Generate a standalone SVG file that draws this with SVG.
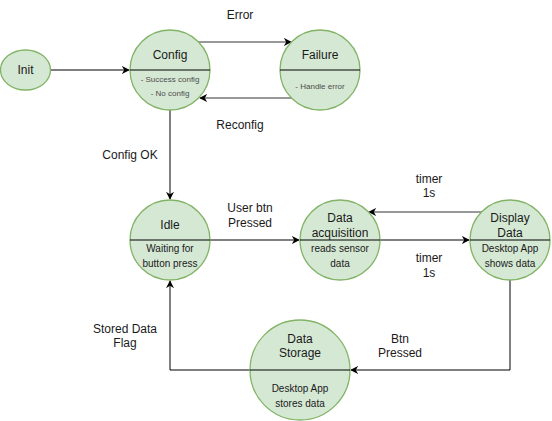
<svg xmlns="http://www.w3.org/2000/svg" width="552" height="421" viewBox="0 0 552 421">
<defs>
<style>
.node{fill:#d5e8d4;stroke:#82b366;stroke-width:1.3}
.div{stroke:#000;stroke-width:1;fill:none}
.t{font-family:"Liberation Sans",Arial,sans-serif;font-size:12px;fill:#1a1a1a;text-anchor:middle}
.s{font-family:"Liberation Sans",Arial,sans-serif;font-size:8px;fill:#4d4d4d;text-anchor:middle}
.m{font-family:"Liberation Sans",Arial,sans-serif;font-size:10px;fill:#1a1a1a;text-anchor:middle}
.e{stroke:#000;stroke-width:1;fill:none}
.g{stroke:#333;stroke-width:1;fill:none}
</style>
<marker id="arr" viewBox="0 0 10 10" refX="9" refY="5" markerWidth="8" markerHeight="8" markerUnits="userSpaceOnUse" orient="auto">
<path d="M0,0 L10,5 L0,10 L3,5 Z" fill="#000"/>
</marker>
</defs>
<rect width="552" height="421" fill="#fff"/>
<g id="connectors">
<path class="e" d="M51,70 H129" marker-end="url(#arr)"/>
<path class="g" d="M198,42 H291" marker-end="url(#arr)"/>
<path class="g" d="M292,98 H200" marker-end="url(#arr)"/>
<path class="e" d="M170,110 V199" marker-end="url(#arr)"/>
<path class="e" d="M210,240 H299" marker-end="url(#arr)"/>
<path class="g" d="M482,212 H369" marker-end="url(#arr)"/>
<path class="e" d="M380,240 H469" marker-end="url(#arr)"/>
<path class="e" d="M510,280 V370 H351" marker-end="url(#arr)"/>
<path class="e" d="M250,370 H170 V281" marker-end="url(#arr)"/>
<text class="t" x="240" y="19">Error</text>
<text class="t" x="240" y="129">Reconfig</text>
<text class="t" x="130" y="159">Config OK</text>
<text class="t" x="250" y="212">User btn</text>
<text class="t" x="250" y="227">Pressed</text>
<text class="t" x="429" y="183">timer</text>
<text class="t" x="429" y="197">1s</text>
<text class="t" x="429" y="262">timer</text>
<text class="t" x="429" y="277">1s</text>
<text class="t" x="400" y="343">Btn</text>
<text class="t" x="400" y="357">Pressed</text>
<text class="t" x="125" y="333">Stored Data</text>
<text class="t" x="125" y="347">Flag</text>
</g>
<g id="init">
<ellipse class="node" cx="25.5" cy="70" rx="25" ry="20"/>
<text class="t" x="25.5" y="74">Init</text>
</g>
<g id="config">
<circle class="node" cx="170" cy="70" r="40"/>
<path class="div" d="M130,70 H210"/>
<text class="t" x="170" y="59">Config</text>
<text class="s" x="170" y="82">- Success config</text>
<text class="s" x="170" y="96">- No config</text>
</g>
<g id="failure">
<circle class="node" cx="320" cy="70" r="40"/>
<path class="div" d="M280,70 H360"/>
<text class="t" x="320" y="59">Failure</text>
<text class="s" x="320" y="89">- Handle error</text>
</g>
<g id="idle">
<circle class="node" cx="170" cy="240" r="40"/>
<path class="div" d="M130,240 H210"/>
<text class="t" x="170" y="229">Idle</text>
<text class="m" x="170" y="252">Waiting for</text>
<text class="m" x="170" y="267">button press</text>
</g>
<g id="acquisition">
<circle class="node" cx="340" cy="240" r="40"/>
<path class="div" d="M300,240 H380"/>
<text class="t" x="340" y="222">Data</text>
<text class="t" x="340" y="237">acquisition</text>
<text class="m" x="340" y="252">reads sensor</text>
<text class="m" x="340" y="267">data</text>
</g>
<g id="display">
<circle class="node" cx="510" cy="240" r="40"/>
<path class="div" d="M470,240 H550"/>
<text class="t" x="510" y="222">Display</text>
<text class="t" x="510" y="237">Data</text>
<text class="m" x="510" y="252">Desktop App</text>
<text class="m" x="510" y="267">shows data</text>
</g>
<g id="storage">
<circle class="node" cx="300" cy="370" r="50"/>
<path class="div" d="M250,370 H350"/>
<text class="t" x="300" y="343">Data</text>
<text class="t" x="300" y="357">Storage</text>
<text class="m" x="300" y="392">Desktop App</text>
<text class="m" x="300" y="407">stores data</text>
</g>
</svg>
